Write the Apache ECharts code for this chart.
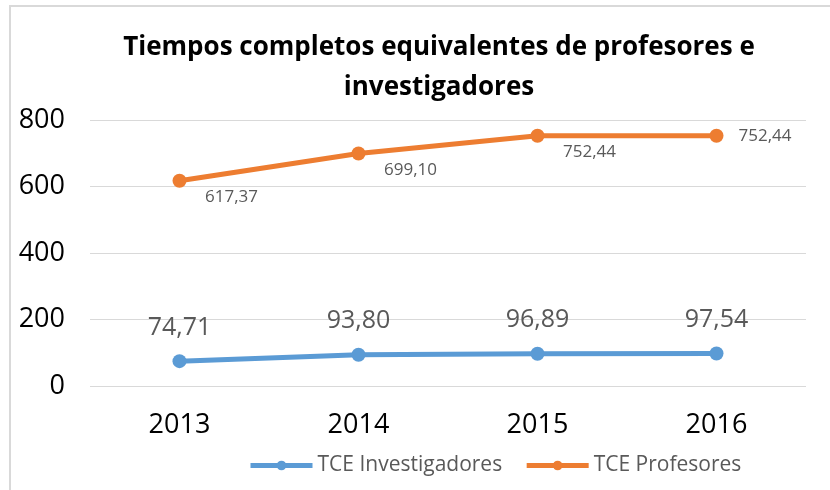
<!DOCTYPE html>
<html><head><meta charset="utf-8">
<script src="https://cdn.jsdelivr.net/npm/echarts@6/dist/echarts.min.js"></script>
<style>html,body{margin:0;padding:0;background:#fff}#c{width:830px;height:490px}</style>
</head><body><div id="c"></div>
<script>
const categories = ['2013', '2014', '2015', '2016'];
const investigadores = [74.71, 93.80, 96.89, 97.54];
const profesores = [617.37, 699.10, 752.44, 752.44];
const yTicks = [0, 200, 400, 600, 800];
const seriesNames = ['TCE Investigadores', 'TCE Profesores'];
const titleText = 'Tiempos completos equivalentes de profesores e\ninvestigadores';

const FONT = '"Open Sans", sans-serif';
const fmt = v => v.toFixed(2).replace('.', ',');
const chart = echarts.init(document.getElementById('c'));
chart.setOption({
  animation: false,
  textStyle: { fontFamily: FONT },
  graphic: [
    { type: 'polyline', shape: { points: [[10, 490], [10, 6], [830, 6]] }, style: { stroke: '#d9d9d9', lineWidth: 2, fill: null } }
  ],
  title: {
    text: titleText, left: 434, top: 23, textAlign: 'center',
    textStyle: { fontFamily: FONT, fontWeight: 'bold', fontSize: 26, color: '#000', lineHeight: 40 }
  },
  legend: {
    bottom: 9, left: 243, itemWidth: 62, itemHeight: 12, itemGap: 22,
    lineStyle: { width: 5 },
    textStyle: { fontFamily: FONT, fontSize: 21, color: '#595959' },
    data: seriesNames
  },
  grid: { left: 90, right: 24, top: 120, bottom: 104 },
  xAxis: {
    type: 'category', data: categories, boundaryGap: true,
    axisLine: { show: false }, axisTick: { show: false },
    axisLabel: { fontFamily: FONT, fontSize: 27, color: '#000', margin: 26 }
  },
  yAxis: {
    type: 'value', min: 0, max: 800, interval: 200,
    axisLine: { show: false }, axisTick: { show: false },
    splitLine: { lineStyle: { color: '#d9d9d9', width: 1 } },
    axisLabel: { fontFamily: FONT, fontSize: 27, color: '#000', margin: 25,
      formatter: v => yTicks.includes(v) ? String(v) : '' }
  },
  series: [
    {
      name: seriesNames[0], type: 'line', data: investigadores,
      symbol: 'circle', symbolSize: 14,
      lineStyle: { color: '#5B9BD5', width: 5 }, itemStyle: { color: '#5B9BD5' },
      label: { show: true, position: 'top', distance: 14, formatter: p => fmt(p.value),
        fontFamily: FONT, fontSize: 25, color: '#595959' }
    },
    {
      name: seriesNames[1], type: 'line',
      data: profesores.map((v, i) => i === profesores.length - 1
        ? { value: v, label: { position: 'right', offset: [10, 0] } }
        : { value: v }),
      symbol: 'circle', symbolSize: 14,
      lineStyle: { color: '#ED7D31', width: 5 }, itemStyle: { color: '#ED7D31' },
      label: { show: true, position: 'bottom', offset: [52, -4], formatter: p => fmt(p.value),
        fontFamily: FONT, fontSize: 17, color: '#595959' }
    }
  ]
});
</script></body></html>
